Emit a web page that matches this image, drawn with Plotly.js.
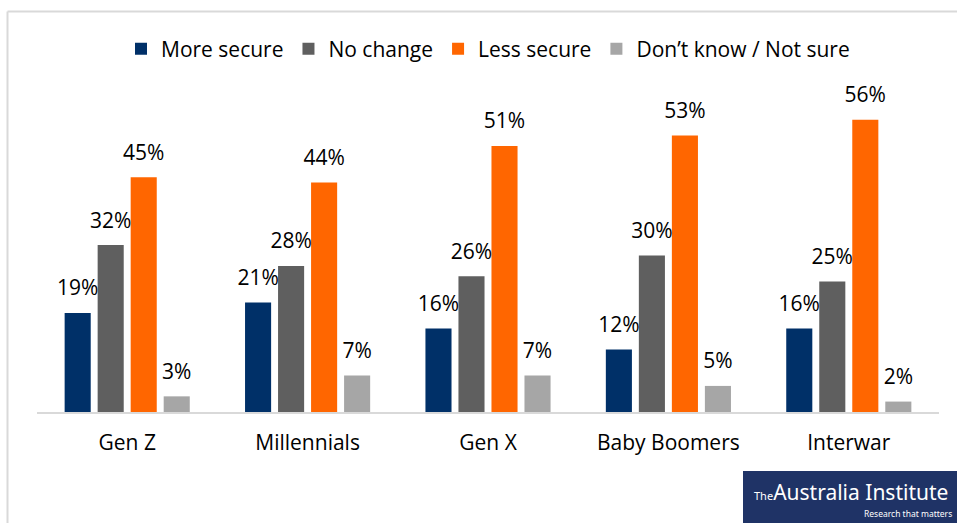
<!DOCTYPE html>
<html>
<head>
<meta charset="utf-8">
<script src="https://cdn.plot.ly/plotly-3.0.1.min.js"></script>
<style>
html,body{margin:0;padding:0;background:#fff;}
#chart{width:957px;height:523px;}
</style>
</head>
<body>
<div id="chart"></div>
<script>
const categories = ["Gen Z", "Millennials", "Gen X", "Baby Boomers", "Interwar"];
const seriesNames = ["More secure", "No change", "Less secure", "Don\u2019t know / Not sure"];
const moreSecure = [19, 21, 16, 12, 16];
const noChange = [32, 28, 26, 30, 25];
const lessSecure = [45, 44, 51, 53, 56];
const dontKnow = [3, 7, 7, 5, 2];
const seriesValues = [moreSecure, noChange, lessSecure, dontKnow];
const colors = ["#003068", "#5f5f5f", "#ff6600", "#a6a6a6"];

const W = 957, H = 523;
const M = {l: 37, r: 18, t: 99, b: 111};
const pw = W - M.l - M.r, ph = H - M.t - M.b;
const px = x => (x - M.l) / pw;
const py = y => (H - M.b - y) / ph;

const FONT = "Open Sans, Noto Sans, sans-serif";
const BARGAP = 0.268;

const barTraces = seriesValues.map((vals, i) => ({
  type: "bar",
  name: seriesNames[i],
  x: categories,
  y: vals,
  marker: {color: colors[i]},
  hoverinfo: "skip"
}));

const labelTraces = seriesValues.map((vals, i) => ({
  type: "scatter",
  mode: "markers+text",
  orientation: "v",
  showlegend: false,
  x: categories,
  y: vals,
  text: vals.map(v => v + "%"),
  textposition: "top center",
  textfont: {family: FONT, size: 21, color: "#000"},
  marker: {size: 18, opacity: 0},
  cliponaxis: false,
  hoverinfo: "skip"
}));

const layout = {
  width: W, height: H,
  margin: M,
  paper_bgcolor: "#fff",
  plot_bgcolor: "#fff",
  barmode: "group",
  bargap: BARGAP,
  bargroupgap: 0.21,
  scattermode: "group",
  scattergap: BARGAP,
  showlegend: true,
  legend: {
    orientation: "h",
    x: px(488), xanchor: "center",
    y: py(49), yanchor: "middle",
    font: {family: FONT, size: 21, color: "#000"},
    itemwidth: 30,
    tracegroupgap: 0
  },
  xaxis: {
    showline: true, linecolor: "#d9d9d9", linewidth: 2,
    ticks: "", tickfont: {family: FONT, size: 21, color: "#000"},
    ticklabelstandoff: 11,
    fixedrange: true
  },
  yaxis: {
    range: [0, 60], visible: false, showgrid: false, zeroline: false,
    fixedrange: true
  },
  shapes: [
    {type: "line", xref: "paper", yref: "paper", x0: px(7.5), x1: px(960), y0: py(11.5), y1: py(11.5), line: {color: "#d9d9d9", width: 2}},
    {type: "line", xref: "paper", yref: "paper", x0: px(7.5), x1: px(7.5), y0: py(11.5), y1: py(525), line: {color: "#d9d9d9", width: 2}},
    {type: "rect", xref: "paper", yref: "paper", x0: px(743), x1: px(960), y0: py(471), y1: py(525), fillcolor: "#1f3366", line: {width: 0}}
  ],
  annotations: [
    {xref: "paper", yref: "paper", x: px(851), y: py(492), text: "<span style='font-size:11px'>The</span>Australia Institute", showarrow: false, font: {family: "Noto Sans, sans-serif", size: 21, color: "#fff"}, xanchor: "center", yanchor: "middle"},
    {xref: "paper", yref: "paper", x: px(954), y: py(513), text: "Research that matters", showarrow: false, font: {family: "Noto Sans, sans-serif", size: 8.5, color: "#fff"}, xanchor: "right", yanchor: "middle"}
  ]
};

Plotly.newPlot("chart", barTraces.concat(labelTraces), layout, {displayModeBar: false, staticPlot: true});
</script>
</body>
</html>
